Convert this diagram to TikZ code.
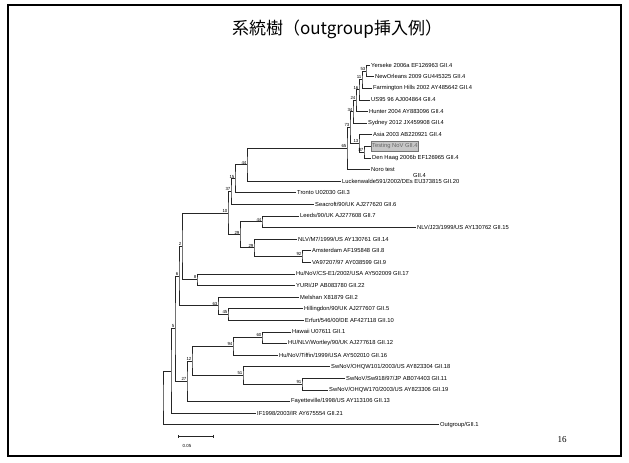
\documentclass[tikz,border=0pt]{standalone}
\usepackage{fontspec}
\setmainfont{Liberation Sans}
\newfontfamily\cjk{Noto Sans CJK JP}
\newfontfamily\serifnum{Liberation Serif}
\usetikzlibrary{arrows.meta}
\newcommand\treebr[3]{\draw[br] (#2) -| (#1) |- (#3);}
\begin{document}
\begin{tikzpicture}[x=1pt,y=-1pt,
  leaf/.style={anchor=west,inner sep=1pt,font=\fontsize{5.8}{6}\selectfont},
  bs/.style={anchor=south east,inner sep=0.4pt,font=\fontsize{4.4}{5}\selectfont},
  br/.style={line width=0.6pt,black!85},
  hl/.style={leaf,inner ysep=1.8pt,fill=black!22,draw=black!55,text=black!60},
]
\useasboundingbox (0,0) rectangle (629,463);
\draw[line width=1.4pt] (8,5) rectangle (621,456);
\node[font=\cjk\fontsize{17}{20}\selectfont] (title) at (337,29) {系統樹（outgroup挿入例）};

% leaves
\node[leaf] (l0) at (370,65.0) {Yerseke 2006a EF126963 GII.4};
\node[leaf] (l1) at (374,76.6) {NewOrleans 2009 GU445325 GII.4};
\node[leaf] (l2) at (372,88.2) {Farmington Hills 2002 AY485642 GII.4};
\node[leaf] (l3) at (370,99.8) {US95 96 AJ004864 GII.4};
\node[leaf] (l4) at (368,111.4) {Hunter 2004 AY883096 GII.4};
\node[leaf] (l5) at (367,123.0) {Sydney 2012 JX459908 GII.4};
\node[leaf] (l6) at (372,134.6) {Asia 2003 AB220921 GII.4};
\node[hl] (l7) at (371,146.2) {Testing NoV GII.4};
\node[leaf] (l8) at (371,157.8) {Den Haag 2006b EF126965 GII.4};
\node[leaf] (l9) at (370,169.4) {Noro test};
\node[leaf] (g4) at (412,176) {GII.4};
\node[leaf] (l10) at (341,181.0) {Luckenwalde591/2002/DEs EU373815 GII.20};
\node[leaf] (l11) at (296,192.6) {Tronto U02030 GII.3};
\node[leaf] (l12) at (314,204.2) {Seacroft/90/UK AJ277620 GII.6};
\node[leaf] (l13) at (299,215.8) {Leeds/90/UK AJ277608 GII.7};
\node[leaf] (l14) at (416,227.4) {NLV/J23/1999/US AY130762 GII.15};
\node[leaf] (l15) at (297,239.0) {NLV/M7/1999/US AY130761 GII.14};
\node[leaf] (l16) at (311,250.6) {Amsterdam AF195848 GII.8};
\node[leaf] (l17) at (311,262.2) {VA97207/97 AY038599 GII.9};
\node[leaf] (l18) at (295,273.8) {Hu/NoV/CS-E1/2002/USA AY502009 GII.17};
\node[leaf] (l19) at (295,285.4) {YURI/JP AB083780 GII.22};
\node[leaf] (l20) at (299,297.0) {Melshan X81879 GII.2};
\node[leaf] (l21) at (303,308.6) {Hillingdon/90/UK AJ277607 GII.5};
\node[leaf] (l22) at (304,320.2) {Erfurt/546/00/DE AF427118 GII.10};
\node[leaf] (l23) at (291,331.8) {Hawaii U07611 GII.1};
\node[leaf] (l24) at (287,343.4) {HU/NLV/Wortley/90/UK AJ277618 GII.12};
\node[leaf] (l25) at (278,355.0) {Hu/NoV/Tiffin/1999/USA AY502010 GII.16};
\node[leaf] (l26) at (330,366.6) {SwNoV/OHQW101/2003/US AY823304 GII.18};
\node[leaf] (l27) at (345,378.2) {SwNoV/Sw918/97/JP AB074403 GII.11};
\node[leaf] (l28) at (328,389.8) {SwNoV/OHQW170/2003/US AY823306 GII.19};
\node[leaf] (l29) at (290,401.4) {Fayetteville/1998/US AY113106 GII.13};
\node[leaf] (l30) at (256,413.0) {IF1998/2003/IR AY675554 GII.21};
\node[leaf] (l31) at (439,424.6) {Outgroup/GII.1};

% internal nodes
\coordinate (n1) at (366,70.8);
\coordinate (n2) at (362,79.5);
\coordinate (n3) at (359,89.65);
\coordinate (n4) at (356,100.5);
\coordinate (n5) at (353,111.75);
\coordinate (n7) at (364,152);
\coordinate (n6) at (359,143.3);
\coordinate (n8) at (350,127.5);
\coordinate (r4) at (347,148.45);
\coordinate (nl) at (247,164.7);
\coordinate (nt) at (235,178.65);
\coordinate (ns) at (231,191.4);
\coordinate (nln) at (262,221.6);
\coordinate (nav) at (302,256.4);
\coordinate (nma) at (254,247.7);
\coordinate (nlm) at (240,234.65);
\coordinate (nq) at (228,213);
\coordinate (ncy) at (197,279.6);
\coordinate (nn2) at (182,246.3);
\coordinate (nhe) at (228,314.4);
\coordinate (nmhe) at (218,305.7);
\coordinate (nn6) at (179,276);
\coordinate (nhw) at (262,337.6);
\coordinate (nhwt) at (233,346.3);
\coordinate (nsw) at (302,384);
\coordinate (nswo) at (243,375.3);
\coordinate (nn12) at (192,360.8);
\coordinate (nf) at (187,381.1);
\coordinate (nn5) at (175,328.55);
\coordinate (nif) at (171,370.8);
\coordinate (root) at (163,397.7);

% branches
\treebr{n1}{l0}{l1}
\treebr{n2}{n1}{l2}
\treebr{n3}{n2}{l3}
\treebr{n4}{n3}{l4}
\treebr{n5}{n4}{l5}
\treebr{n7}{l7}{l8}
\treebr{n6}{l6}{n7}
\treebr{n8}{n5}{n6}
\treebr{r4}{n8}{l9}
\treebr{nl}{r4}{l10}
\treebr{nt}{nl}{l11}
\treebr{ns}{nt}{l12}
\treebr{nln}{l13}{l14}
\treebr{nav}{l16}{l17}
\treebr{nma}{l15}{nav}
\treebr{nlm}{nln}{nma}
\treebr{nq}{ns}{nlm}
\treebr{ncy}{l18}{l19}
\treebr{nn2}{nq}{ncy}
\treebr{nhe}{l21}{l22}
\treebr{nmhe}{l20}{nhe}
\treebr{nn6}{nn2}{nmhe}
\treebr{nhw}{l23}{l24}
\treebr{nhwt}{nhw}{l25}
\treebr{nsw}{l27}{l28}
\treebr{nswo}{l26}{nsw}
\treebr{nn12}{nhwt}{nswo}
\treebr{nf}{nn12}{l29}
\treebr{nn5}{nn6}{nf}
\treebr{nif}{nn5}{l30}
\treebr{root}{nif}{l31}

% bootstrap values
\node[bs] (b1) at (n1) {53};
\node[bs] (b2) at (n2) {11};
\node[bs] (b3) at (n3) {16};
\node[bs] (b4) at (n4) {24};
\node[bs] (b5) at (n5) {34};
\node[bs] (b7) at (n7) {87};
\node[bs] (b6) at (n6) {13};
\node[bs] (b8) at (n8) {73};
\node[bs] (b9) at (r4) {65};
\node[bs] (b10) at (nl) {44};
\node[bs] (b11) at (nt) {15};
\node[bs] (b12) at (ns) {37};
\node[bs] (b13) at (nq) {10};
\node[bs] (b14) at (nln) {44};
\node[bs] (b15) at (nlm) {29};
\node[bs] (b16) at (nma) {29};
\node[bs] (b17) at (nav) {92};
\node[bs] (b18) at (ncy) {8};
\node[bs] (b19) at (nn2) {2};
\node[bs] (b20) at (nmhe) {63};
\node[bs] (b21) at (nhe) {45};
\node[bs] (b22) at (nn6) {6};
\node[bs] (b23) at (nhw) {60};
\node[bs] (b24) at (nhwt) {94};
\node[bs] (b25) at (nswo) {51};
\node[bs] (b26) at (nsw) {91};
\node[bs] (b27) at (nn12) {12};
\node[bs] (b28) at (nf) {27};
\node[bs] (b29) at (nn5) {5};

% scale bar
\coordinate (sb1) at (178,436);
\coordinate (sb2) at (214,436);
\draw[br,{Bar[width=3pt]}-{Bar[width=3pt]}] (sb1) -- (sb2);
\node[font=\fontsize{4.4}{5}\selectfont] (sbl) at (187,446) {0.05};

\node[font=\serifnum\fontsize{9}{10}\selectfont] (pg) at (562,440) {16};
\end{tikzpicture}
\end{document}
